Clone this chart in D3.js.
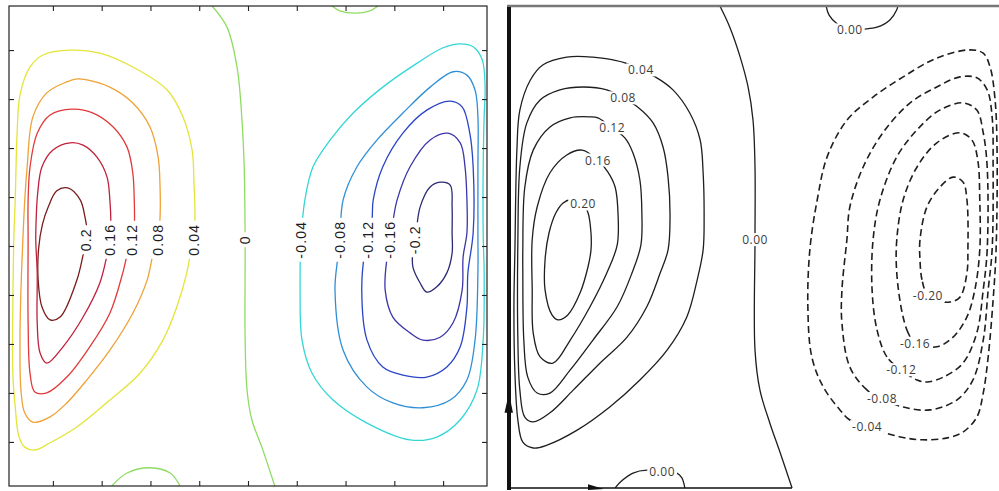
<!DOCTYPE html>
<html>
<head>
<meta charset="utf-8">
<script src="https://cdn.jsdelivr.net/npm/d3@7/dist/d3.min.js"></script>
<style>
  html, body { margin: 0; padding: 0; background: #fff; }
  svg { display: block; }
</style>
</head>
<body>
<svg id="chart" width="999" height="491"></svg>
<script>
// ---------------------------------------------------------------
// Stream-function isolines of a double gyre, two model runs.
// Coordinates are normalised basin coordinates [x, y], y pointing north.
// ---------------------------------------------------------------

// contour levels and the jet-like colours used on the left panel
const levels      = [0.2, 0.16, 0.12, 0.08, 0.04, 0, -0.04, -0.08, -0.12, -0.16, -0.2];
const levelColors = ["#7a1c1c", "#c0203c", "#e23a3a", "#efa235", "#e4e43a", "#8fdc62",
                     "#34d6d6", "#2f8fd6", "#2a44c6", "#3b35a8", "#2a2a76"];

// axis ticks of the left panel (grid index units)
const leftTickValues = [1, 2, 3, 4, 5, 6, 7, 8, 9];

// ---- left panel isolines ----
const leftPsiP20 = [[0.123,0.621],[0.149,0.596],[0.159,0.560],[0.163,0.533],[0.161,0.508],[0.155,0.481],[0.142,0.429],[0.107,0.352],[0.086,0.346],[0.069,0.373],[0.061,0.429],[0.062,0.495],[0.070,0.545],[0.082,0.581],[0.100,0.615]];
const leftPsiP16 = [[0.128,0.715],[0.155,0.710],[0.184,0.685],[0.205,0.644],[0.211,0.596],[0.213,0.540],[0.211,0.513],[0.205,0.481],[0.190,0.423],[0.155,0.352],[0.113,0.290],[0.079,0.256],[0.065,0.277],[0.059,0.340],[0.059,0.444],[0.056,0.513],[0.057,0.560],[0.060,0.610],[0.069,0.665],[0.092,0.700]];
const leftPsiP12 = [[0.132,0.785],[0.176,0.777],[0.218,0.748],[0.247,0.706],[0.259,0.652],[0.262,0.596],[0.262,0.540],[0.257,0.513],[0.247,0.481],[0.238,0.444],[0.211,0.360],[0.169,0.290],[0.121,0.227],[0.079,0.194],[0.054,0.196],[0.044,0.235],[0.040,0.340],[0.040,0.513],[0.040,0.596],[0.044,0.665],[0.059,0.735],[0.086,0.773]];
const leftPsiP08 = [[0.142,0.848],[0.163,0.846],[0.211,0.831],[0.259,0.798],[0.295,0.748],[0.312,0.685],[0.316,0.623],[0.316,0.560],[0.312,0.513],[0.301,0.481],[0.289,0.429],[0.259,0.360],[0.211,0.283],[0.163,0.221],[0.121,0.173],[0.086,0.144],[0.050,0.133],[0.033,0.152],[0.025,0.200],[0.023,0.304],[0.025,0.408],[0.029,0.513],[0.033,0.596],[0.038,0.665],[0.050,0.769],[0.079,0.819],[0.121,0.842]];
const leftPsiP04 = [[0.128,0.908],[0.190,0.902],[0.259,0.873],[0.331,0.825],[0.364,0.769],[0.383,0.700],[0.387,0.631],[0.389,0.569],[0.387,0.513],[0.379,0.481],[0.372,0.444],[0.351,0.373],[0.322,0.304],[0.274,0.235],[0.211,0.179],[0.142,0.123],[0.086,0.090],[0.054,0.075],[0.033,0.081],[0.021,0.102],[0.013,0.165],[0.008,0.235],[0.008,0.373],[0.010,0.513],[0.013,0.596],[0.017,0.735],[0.023,0.815],[0.044,0.873],[0.071,0.898]];
const leftPsiZero       = [[0.425,1.000],[0.456,0.956],[0.477,0.873],[0.487,0.769],[0.492,0.665],[0.494,0.513],[0.494,0.304],[0.498,0.200],[0.508,0.138],[0.529,0.081],[0.556,0.000]];
const leftPsiZeroTop    = [[0.676,1.000],[0.692,0.990],[0.724,0.985],[0.755,0.990],[0.772,1.000]];
const leftPsiZeroBottom = [[0.215,0.000],[0.247,0.027],[0.295,0.038],[0.337,0.027],[0.358,0.000]];
const leftPsiN04 = [[0.944,0.921],[0.971,0.915],[0.990,0.888],[0.996,0.831],[0.994,0.769],[0.992,0.665],[0.992,0.527],[0.994,0.444],[0.992,0.304],[0.979,0.200],[0.944,0.138],[0.895,0.102],[0.839,0.096],[0.749,0.131],[0.678,0.179],[0.634,0.235],[0.613,0.304],[0.609,0.408],[0.611,0.513],[0.619,0.596],[0.636,0.665],[0.672,0.721],[0.720,0.777],[0.782,0.831],[0.854,0.881],[0.908,0.913]];
const leftPsiN08 = [[0.929,0.863],[0.958,0.856],[0.975,0.825],[0.981,0.769],[0.981,0.665],[0.981,0.527],[0.981,0.444],[0.975,0.304],[0.958,0.221],[0.923,0.179],[0.866,0.163],[0.803,0.173],[0.749,0.206],[0.699,0.283],[0.682,0.408],[0.688,0.477],[0.692,0.513],[0.699,0.596],[0.728,0.665],[0.770,0.721],[0.824,0.777],[0.881,0.831]];
const leftPsiN12 = [[0.923,0.802],[0.948,0.790],[0.964,0.735],[0.971,0.665],[0.971,0.527],[0.960,0.444],[0.958,0.373],[0.944,0.290],[0.916,0.248],[0.874,0.227],[0.824,0.231],[0.782,0.248],[0.749,0.304],[0.738,0.408],[0.745,0.492],[0.759,0.550],[0.762,0.596],[0.782,0.665],[0.824,0.735],[0.874,0.783]];
const leftPsiN16 = [[0.918,0.735],[0.944,0.715],[0.954,0.665],[0.958,0.596],[0.958,0.527],[0.950,0.477],[0.948,0.408],[0.929,0.340],[0.902,0.310],[0.866,0.304],[0.839,0.319],[0.803,0.352],[0.787,0.408],[0.791,0.477],[0.797,0.513],[0.803,0.550],[0.812,0.596],[0.839,0.665],[0.881,0.721]];
const leftPsiN20 = [[0.902,0.633],[0.923,0.627],[0.927,0.581],[0.927,0.527],[0.927,0.485],[0.916,0.444],[0.895,0.415],[0.874,0.404],[0.860,0.423],[0.845,0.456],[0.845,0.492],[0.851,0.523],[0.860,0.581],[0.881,0.623]];

// latitude along which the left-panel labels sit
const leftLabelY = 0.513;

// ---- right panel isolines (first point of each labelled line carries its label) ----
const rightPsiP04 = [[0.269,0.867],[0.298,0.853],[0.334,0.826],[0.368,0.778],[0.389,0.722],[0.395,0.654],[0.397,0.562],[0.395,0.494],[0.383,0.432],[0.362,0.355],[0.322,0.286],[0.267,0.224],[0.206,0.168],[0.140,0.120],[0.079,0.089],[0.051,0.083],[0.030,0.095],[0.020,0.141],[0.014,0.239],[0.012,0.376],[0.014,0.494],[0.018,0.701],[0.024,0.784],[0.045,0.846],[0.071,0.878],[0.119,0.894],[0.172,0.894],[0.213,0.888],[0.237,0.882]];
const rightPsiP08 = [[0.233,0.809],[0.263,0.790],[0.294,0.757],[0.314,0.707],[0.324,0.645],[0.328,0.562],[0.324,0.494],[0.308,0.446],[0.281,0.376],[0.241,0.313],[0.186,0.259],[0.132,0.203],[0.085,0.156],[0.051,0.137],[0.034,0.147],[0.024,0.203],[0.020,0.307],[0.020,0.515],[0.024,0.666],[0.038,0.757],[0.065,0.805],[0.105,0.826],[0.152,0.832],[0.200,0.826]];
const rightPsiP12 = [[0.211,0.747],[0.237,0.726],[0.253,0.695],[0.267,0.639],[0.271,0.571],[0.269,0.504],[0.251,0.446],[0.221,0.376],[0.172,0.307],[0.126,0.245],[0.085,0.197],[0.059,0.197],[0.040,0.230],[0.032,0.307],[0.030,0.446],[0.030,0.494],[0.034,0.624],[0.051,0.701],[0.085,0.749],[0.126,0.768],[0.166,0.770],[0.182,0.768]];
const rightPsiP16 = [[0.182,0.680],[0.202,0.656],[0.217,0.624],[0.223,0.562],[0.221,0.504],[0.200,0.446],[0.166,0.376],[0.126,0.307],[0.091,0.259],[0.065,0.272],[0.051,0.322],[0.049,0.411],[0.049,0.515],[0.059,0.583],[0.085,0.654],[0.119,0.691],[0.150,0.701]];
const rightPsiP20 = [[0.152,0.589],[0.162,0.571],[0.168,0.529],[0.168,0.494],[0.162,0.459],[0.146,0.405],[0.121,0.359],[0.101,0.349],[0.089,0.359],[0.075,0.411],[0.075,0.473],[0.083,0.529],[0.097,0.571],[0.111,0.591],[0.126,0.598]];
const rightPsiZero       = [[0.429,1.000],[0.449,0.956],[0.470,0.894],[0.486,0.832],[0.496,0.763],[0.500,0.666],[0.500,0.515],[0.500,0.286],[0.510,0.203],[0.530,0.135],[0.551,0.073],[0.575,0.000]];
const rightPsiZeroTop    = [[0.644,1.000],[0.650,0.981],[0.666,0.963],[0.692,0.950],[0.719,0.952],[0.747,0.956],[0.773,0.971],[0.787,0.992],[0.789,1.000]];
const rightPsiZeroBottom = [[0.217,0.000],[0.227,0.012],[0.253,0.031],[0.281,0.037],[0.312,0.033],[0.342,0.031],[0.352,0.021],[0.358,0.000]];
const rightPsiN04 = [[0.727,0.127],[0.692,0.141],[0.672,0.162],[0.638,0.210],[0.615,0.272],[0.607,0.376],[0.611,0.494],[0.626,0.598],[0.646,0.687],[0.686,0.763],[0.739,0.811],[0.800,0.853],[0.868,0.892],[0.935,0.909],[0.962,0.902],[0.976,0.873],[0.986,0.805],[0.990,0.701],[0.988,0.494],[0.982,0.390],[0.972,0.272],[0.962,0.197],[0.949,0.147],[0.921,0.116],[0.889,0.104],[0.840,0.100],[0.794,0.106]];
const rightPsiN08 = [[0.757,0.185],[0.727,0.203],[0.692,0.251],[0.676,0.342],[0.676,0.411],[0.686,0.515],[0.692,0.583],[0.719,0.666],[0.759,0.737],[0.814,0.799],[0.868,0.832],[0.915,0.853],[0.949,0.851],[0.970,0.826],[0.980,0.770],[0.982,0.666],[0.980,0.494],[0.972,0.411],[0.962,0.307],[0.941,0.224],[0.909,0.183],[0.854,0.162],[0.800,0.168]];
const rightPsiN12 = [[0.796,0.245],[0.767,0.272],[0.747,0.328],[0.737,0.411],[0.739,0.515],[0.753,0.598],[0.787,0.687],[0.828,0.743],[0.874,0.784],[0.921,0.799],[0.949,0.784],[0.962,0.737],[0.970,0.666],[0.970,0.494],[0.962,0.411],[0.949,0.322],[0.921,0.259],[0.881,0.230],[0.848,0.220],[0.828,0.224]];
const rightPsiN16 = [[0.824,0.300],[0.810,0.322],[0.798,0.363],[0.787,0.446],[0.787,0.515],[0.800,0.598],[0.828,0.666],[0.868,0.716],[0.915,0.737],[0.939,0.722],[0.951,0.680],[0.955,0.598],[0.955,0.494],[0.945,0.411],[0.929,0.355],[0.901,0.313],[0.868,0.293]];
const rightPsiN20 = [[0.850,0.398],[0.838,0.432],[0.834,0.473],[0.834,0.515],[0.848,0.583],[0.874,0.624],[0.901,0.645],[0.921,0.635],[0.929,0.598],[0.931,0.494],[0.929,0.446],[0.915,0.396],[0.895,0.386],[0.870,0.388]];

// boundary forcing markers on the right panel
const rightWallArrow = [[0.002,0.197],[-0.007,0.156],[0.010,0.156]];
const rightLidArrow  = [[0.162,0.008],[0.194,-0.002],[0.162,-0.004]];
const rightBottomEdge = [[0.0,0.0],[0.575,0.0]];

// ---------------------------------------------------------------
const svg = d3.select("#chart");
const colorOf = d3.scaleOrdinal().domain(levels).range(levelColors);

const leftIsolines = [
  { level: 0.2,   pts: leftPsiP20 },
  { level: 0.16,  pts: leftPsiP16 },
  { level: 0.12,  pts: leftPsiP12 },
  { level: 0.08,  pts: leftPsiP08 },
  { level: 0.04,  pts: leftPsiP04 },
  { level: 0,     pts: leftPsiZero, open: true, labelled: true },
  { level: 0,     pts: leftPsiZeroTop, open: true, labelled: false },
  { level: 0,     pts: leftPsiZeroBottom, open: true, labelled: false },
  { level: -0.04, pts: leftPsiN04 },
  { level: -0.08, pts: leftPsiN08 },
  { level: -0.12, pts: leftPsiN12 },
  { level: -0.16, pts: leftPsiN16 },
  { level: -0.2,  pts: leftPsiN20 }
];

const rightIsolines = [
  { level: 0.04,  pts: rightPsiP04 },
  { level: 0.08,  pts: rightPsiP08 },
  { level: 0.12,  pts: rightPsiP12 },
  { level: 0.16,  pts: rightPsiP16 },
  { level: 0.20,  pts: rightPsiP20 },
  { level: 0,     pts: rightPsiZero, open: true, labelAt: 6 },
  { level: 0,     pts: rightPsiZeroTop, open: true, labelAt: 3 },
  { level: 0,     pts: rightPsiZeroBottom, open: true, labelAt: 4 },
  { level: -0.04, pts: rightPsiN04 },
  { level: -0.08, pts: rightPsiN08 },
  { level: -0.12, pts: rightPsiN12 },
  { level: -0.16, pts: rightPsiN16 },
  { level: -0.20, pts: rightPsiN20 }
];

function pathFor(xs, ys, open) {
  return d3.line()
    .x(d => xs(d[0])).y(d => ys(d[1]))
    .curve(open ? d3.curveCatmullRom.alpha(0.5) : d3.curveCatmullRomClosed.alpha(0.5));
}

// x where an isoline crosses a given latitude (the side facing the basin centre)
function crossingX(pts, v, open, pickMax) {
  let best = null;
  const n = pts.length, segs = open ? n - 1 : n;
  for (let i = 0; i < segs; i++) {
    const a = pts[i], b = pts[(i + 1) % n];
    if ((a[1] - v) * (b[1] - v) <= 0 && a[1] !== b[1]) {
      const t = (v - a[1]) / (b[1] - a[1]);
      const x = a[0] + t * (b[0] - a[0]);
      if (best === null || (pickMax ? x > best : x < best)) best = x;
    }
  }
  return best;
}

// ================= LEFT PANEL =================
const L = { x0: 9, x1: 487, y0: 6, y1: 486 };
const lx = d3.scaleLinear().domain([0, 1]).range([L.x0, L.x1]);
const ly = d3.scaleLinear().domain([0, 1]).range([L.y1, L.y0]);
const lAxisX = d3.scaleLinear().domain([0.1, 9.9]).range([L.x0, L.x1]);
const lAxisY = d3.scaleLinear().domain([0.1, 9.9]).range([L.y1, L.y0]);

svg.append("clipPath").attr("id", "clipL")
  .append("rect").attr("x", L.x0).attr("y", L.y0)
  .attr("width", L.x1 - L.x0).attr("height", L.y1 - L.y0);

const gL = svg.append("g");
const gLLines = gL.append("g").attr("clip-path", "url(#clipL)");

leftIsolines.forEach(c => {
  gLLines.append("path")
    .attr("d", pathFor(lx, ly, c.open)(c.pts))
    .attr("fill", "none")
    .attr("stroke", colorOf(c.level))
    .attr("stroke-width", 1.3)
    .attr("stroke-linejoin", "round");
});

// rotated inline labels with a white knockout
const gLLab = gL.append("g");
leftIsolines.filter(c => !c.open || c.labelled).forEach(c => {
  const u = crossingX(c.pts, leftLabelY, c.open, c.level > 0);
  const g = gLLab.append("g")
    .attr("transform", `translate(${lx(u)},${ly(leftLabelY)}) rotate(-90)`);
  const bg = g.append("rect").attr("fill", "#fff");
  const t = g.append("text")
    .attr("text-anchor", "middle")
    .attr("dy", "0.36em")
    .attr("font-family", "'Liberation Sans', Arial, sans-serif")
    .attr("font-size", 14)
    .attr("letter-spacing", 1.2)
    .attr("fill", "#1c1c1c")
    .text(String(c.level));
  const bb = t.node().getBBox();
  bg.attr("x", bb.x - 3).attr("y", bb.y + 1)
    .attr("width", bb.width + 6).attr("height", bb.height - 2);
});

// frame and inward ticks on all four sides
gL.append("rect")
  .attr("x", L.x0).attr("y", L.y0)
  .attr("width", L.x1 - L.x0).attr("height", L.y1 - L.y0)
  .attr("fill", "none").attr("stroke", "#222").attr("stroke-width", 1.2);

const axStyle = sel => {
  sel.select(".domain").remove();
  sel.selectAll(".tick line").attr("stroke", "#222").attr("stroke-width", 1.1);
};
gL.append("g").attr("transform", `translate(0,${L.y1})`)
  .call(d3.axisBottom(lAxisX).tickValues(leftTickValues).tickSize(-5).tickFormat(""))
  .call(axStyle);
gL.append("g").attr("transform", `translate(0,${L.y0})`)
  .call(d3.axisTop(lAxisX).tickValues(leftTickValues).tickSize(-5).tickFormat(""))
  .call(axStyle);
gL.append("g").attr("transform", `translate(${L.x1},0)`)
  .call(d3.axisRight(lAxisY).tickValues(leftTickValues).tickSize(-5).tickFormat(""))
  .call(axStyle);
gL.append("g").attr("transform", `translate(${L.x0},0)`)
  .call(d3.axisLeft(lAxisY).tickValues(leftTickValues).tickSize(-5).tickFormat(""))
  .call(axStyle);

// ================= RIGHT PANEL =================
const R = { x0: 508, x1: 1002, y0: 6, y1: 488 };
const rx = d3.scaleLinear().domain([0, 1]).range([R.x0, R.x1]);
const ry = d3.scaleLinear().domain([0, 1]).range([R.y1, R.y0]);

svg.append("clipPath").attr("id", "clipR")
  .append("rect").attr("x", R.x0).attr("y", R.y0)
  .attr("width", R.x1 - R.x0).attr("height", R.y1 - R.y0);

const gR = svg.append("g");
const gRLines = gR.append("g").attr("clip-path", "url(#clipR)");

rightIsolines.forEach(c => {
  gRLines.append("path")
    .attr("d", pathFor(rx, ry, c.open)(c.pts))
    .attr("fill", "none")
    .attr("stroke", "#1e1e1e")
    .attr("stroke-width", c.level < 0 ? 1.6 : 1.3)
    .attr("stroke-dasharray", c.level < 0 ? "7,4" : null)
    .attr("stroke-linejoin", "round");
});

const gRLab = gR.append("g");
rightIsolines.forEach(c => {
  const p = c.pts[c.labelAt || 0];
  const g = gRLab.append("g").attr("transform", `translate(${rx(p[0])},${ry(p[1])})`);
  const bg = g.append("rect").attr("fill", "#fff");
  const t = g.append("text")
    .attr("text-anchor", "middle")
    .attr("dy", "0.36em")
    .attr("font-family", "'Open Sans', 'DejaVu Sans', sans-serif")
    .attr("font-size", 12)
    .attr("letter-spacing", 0.5)
    .attr("fill", "#3c3c3c")
    .text(c.level.toFixed(2));
  const bb = t.node().getBBox();
  bg.attr("x", bb.x - 2).attr("y", bb.y + 2)
    .attr("width", bb.width + 4).attr("height", bb.height - 4);
});

// basin edges: lid, western wall and the visible part of the southern edge
gR.append("line")
  .attr("x1", rx(0) - 1).attr("x2", rx(1)).attr("y1", ry(1)).attr("y2", ry(1))
  .attr("stroke", "#777").attr("stroke-width", 2.5);
gR.append("line")
  .attr("x1", rx(0) + 1).attr("x2", rx(0) + 1).attr("y1", ry(1) + 1).attr("y2", ry(0) + 2)
  .attr("stroke", "#111").attr("stroke-width", 4);
gR.append("path")
  .attr("d", d3.line().x(d => rx(d[0])).y(d => ry(d[1]))(rightBottomEdge))
  .attr("stroke", "#111").attr("stroke-width", 1.6).attr("fill", "none");

const tri = d3.line().x(d => rx(d[0])).y(d => ry(d[1])).curve(d3.curveLinearClosed);
gR.append("path").attr("d", tri(rightWallArrow)).attr("fill", "#111");
gR.append("path").attr("d", tri(rightLidArrow)).attr("fill", "#111");
</script>
</body>
</html>
